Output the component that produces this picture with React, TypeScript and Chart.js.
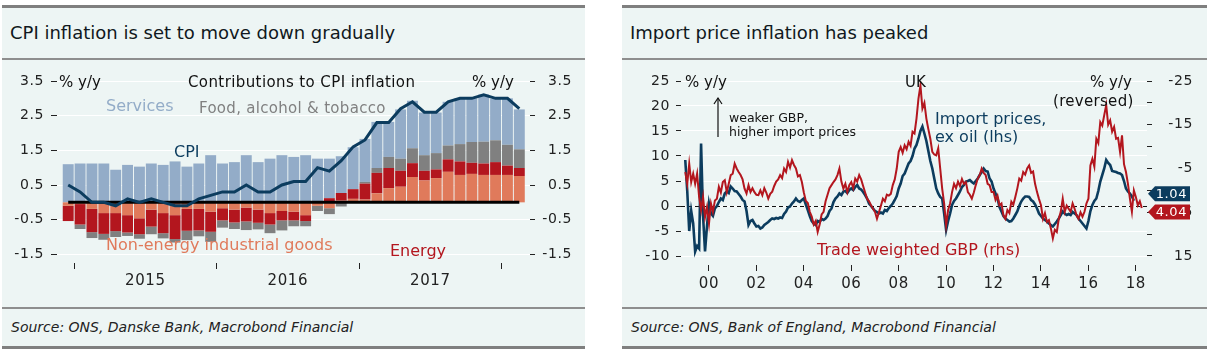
import React, { useEffect, useRef } from "react";
import { Chart, registerables } from "chart.js";

Chart.register(...registerables);

// ---------------- Left chart: contributions to CPI inflation ----------------
const contribMonths = [
  "2014-12",
  "2015-01", "2015-02", "2015-03", "2015-04", "2015-05", "2015-06", "2015-07", "2015-08", "2015-09", "2015-10", "2015-11", "2015-12",
  "2016-01", "2016-02", "2016-03", "2016-04", "2016-05", "2016-06", "2016-07", "2016-08", "2016-09", "2016-10", "2016-11", "2016-12",
  "2017-01", "2017-02", "2017-03", "2017-04", "2017-05", "2017-06", "2017-07", "2017-08", "2017-09", "2017-10", "2017-11", "2017-12",
  "2018-01", "2018-02",
];
const neigContrib = [-0.10, -0.05, -0.19, -0.31, -0.31, -0.37, -0.46, -0.21, -0.31, -0.37, -0.19, -0.19, -0.27, -0.17, -0.21, -0.15, -0.21, -0.31, -0.25, -0.27, -0.37, -0.10, -0.17, 0.05, 0.10, 0.08, 0.26, 0.41, 0.45, 0.73, 0.63, 0.70, 0.88, 0.79, 0.82, 0.79, 0.79, 0.79, 0.76];
const energyContrib = [-0.44, -0.59, -0.67, -0.60, -0.52, -0.50, -0.46, -0.49, -0.58, -0.69, -0.63, -0.62, -0.58, -0.35, -0.37, -0.40, -0.38, -0.33, -0.27, -0.25, -0.17, 0.00, 0.12, 0.22, 0.28, 0.46, 0.59, 0.58, 0.46, 0.40, 0.28, 0.25, 0.36, 0.39, 0.32, 0.33, 0.37, 0.27, 0.23];
const foodContrib = [0.00, -0.13, -0.17, -0.17, -0.17, -0.10, -0.13, -0.22, -0.15, -0.10, -0.27, -0.17, -0.29, -0.21, -0.19, -0.25, -0.19, -0.25, -0.29, -0.17, -0.15, -0.15, -0.17, -0.12, 0.00, 0.05, 0.14, 0.32, 0.35, 0.43, 0.45, 0.47, 0.40, 0.50, 0.60, 0.63, 0.63, 0.60, 0.54];
const servicesContrib = [1.10, 1.12, 1.12, 1.12, 0.94, 1.08, 1.03, 1.12, 1.08, 1.18, 1.03, 1.12, 1.36, 1.12, 1.16, 1.36, 1.16, 1.26, 1.36, 1.31, 1.36, 1.26, 1.14, 1.06, 1.21, 1.24, 1.33, 1.01, 1.42, 1.37, 1.23, 1.17, 1.26, 1.32, 1.26, 1.36, 1.20, 1.34, 1.15];
const cpiInflation = [0.5, 0.3, 0.0, 0.0, -0.1, 0.1, 0.0, 0.1, 0.0, -0.1, -0.1, 0.1, 0.2, 0.3, 0.3, 0.5, 0.3, 0.3, 0.5, 0.6, 0.6, 1.0, 0.9, 1.2, 1.6, 1.8, 2.3, 2.3, 2.7, 2.9, 2.6, 2.6, 2.9, 3.0, 3.0, 3.1, 3.0, 3.0, 2.7];
const contribYearLabels = ["2015", "2016", "2017", ""];
const contribYTicks = [-1.5, -1, -0.5, 0, 0.5, 1, 1.5, 2, 2.5, 3, 3.5];

// ---------------- Right chart: import prices vs trade weighted GBP ----------------
const importStartYear = 1999; // monthly data from Jan 1999
const importPricesExOil = [
  9.2, 3.0, -5.0, -1.0, -3.5, -9.1, -8.0, -8.5, 12.5, -2.0, -9.1, -4.0,
  0.5, -1.5, -2.0, -0.5, 0.0, 0.8, 1.5, 1.2, 2.5, 2.9, 2.6, 3.9,
  3.5, 3.0, 2.9, 2.4, 1.9, 1.2, 0.9, -1.0, -3.8, -3.0, -2.8, -3.5,
  -4.1, -4.0, -4.5, -4.3, -3.8, -3.5, -3.2, -2.8, -2.5, -2.6, -2.4, -2.5,
  -2.3, -2.4, -1.6, -1.1, -0.3, -0.1, 0.5, 0.9, 1.5, 1.0, 0.8, 1.2,
  1.5, 0.3, -0.8, -2.0, -3.0, -3.5, -3.8, -3.0, -3.2, -2.6, -2.8, -2.5,
  -2.0, -1.0, -0.5, 0.8, 1.5, 1.9, 2.5, 2.2, 2.9, 3.0, 2.6, 3.2,
  3.5, 3.2, 3.8, 4.2, 3.5, 3.3, 2.8, 2.2, 1.5, 0.5, 0.0, -0.5,
  -1.0, -1.2, -1.5, -1.3, -1.5, -0.8, -1.0, -0.4, 0.0, 0.5, 1.2, 2.0,
  3.5, 4.5, 6.0, 6.5, 7.5, 8.5, 9.0, 10.0, 11.5, 12.2, 13.5, 15.0,
  15.9, 14.5, 13.0, 11.0, 9.0, 7.5, 5.5, 3.5, 2.5, 1.8, 1.5, -1.5,
  -4.8, -3.0, -1.5, 0.2, 1.0, 1.5, 2.2, 2.9, 3.8, 4.2, 4.9, 5.0,
  5.2, 4.8, 4.5, 5.0, 5.5, 6.2, 6.8, 7.5, 7.0, 6.9, 5.5, 4.9,
  3.5, 2.5, 1.5, -0.2, -1.1, -2.0, -2.5, -2.8, -3.1, -3.0, -2.5, -1.8,
  -1.1, 0.0, 0.9, 1.5, 1.9, 1.9, 1.8, 1.2, 0.9, 0.3, -0.5, -1.5,
  -2.0, -2.5, -2.8, -3.1, -3.5, -3.8, -4.1, -3.6, -3.1, -2.5, -1.8, -1.1,
  -1.5, -1.8, -1.6, -1.8, -1.2, -1.5, -1.8, -2.5, -3.0, -3.5, -4.0, -4.5,
  -3.0, -1.0, 0.2, 1.0, 1.5, 3.0, 4.9, 6.2, 7.5, 9.2, 8.6, 8.2,
  7.0, 6.9, 6.8, 6.6, 6.5, 6.2, 5.0, 3.5, 2.9, 2.5, 1.9, 1.04,
];
const tradeWeightedGbp = [
  -4.2, -1.5, -6.1, -1.9, -3.8, -1.5, -3.8, 1.5, 4.5, 1.5, 6.1, 3.8,
  7.6, 3.0, 4.9, 2.3, 1.9, -0.8, 0.5, -1.9, -2.3, 0.4, -1.5, -3.5,
  -3.8, -6.1, -5.0, -4.2, -3.5, -2.5, -0.4, 0.7, -1.2, 0.4, -0.5, 0.4,
  1.0, 1.1, 0.0, 1.1, -0.5, 0.5, 1.9, 0.8, 0.3, -1.0, -2.0, -2.5,
  -3.5, -2.8, -5.0, -4.2, -6.5, -5.2, -6.9, -5.8, -5.0, -3.2, -3.5, -1.9,
  0.5, 2.4, 2.9, 4.9, 6.0, 7.8, 7.0, 9.5, 7.8, 5.5, 4.9, 2.5,
  1.0, -0.5, -1.2, -1.9, -2.5, -3.5, -5.0, -2.0, -0.4, -1.5, 0.4, -1.2,
  -1.9, -0.5, -2.7, -2.0, -3.5, -2.5, -1.0, 0.5, 1.9, 2.5, 3.4, 4.2,
  4.9, 6.5, 5.0, 3.5, 1.9, 2.5, 1.0, 1.2, 0.8, -1.2, -2.5, -5.0,
  -8.8, -9.9, -8.6, -10.3, -9.4, -11.1, -10.2, -13.4, -13.0, -16.4, -21.0, -24.0,
  -18.7, -20.0, -16.4, -14.0, -11.8, -8.8, -8.2, -8.0, -9.6, -5.0, -0.4, 3.0,
  8.0, 4.5, 3.0, 0.4, -1.5, -0.5, -2.0, -1.0, -2.6, -1.5, -1.9, 0.4,
  1.0, 1.9, 0.5, -1.2, -2.7, -3.5, -5.0, -4.0, -3.5, -1.5, -1.2, 0.4,
  0.4, 2.2, 1.2, 3.4, 3.0, 5.7, 6.5, 4.5, 5.2, 2.6, 3.3, 1.5,
  -0.4, -2.7, -2.2, -4.2, -3.6, -5.0, -5.7, -4.0, -4.3, -1.5, 0.4, 2.0,
  3.4, 6.5, 5.2, 7.2, 6.8, 8.7, 11.0, 9.0, 9.5, 6.5, 4.9, 1.9,
  4.9, 3.5, 4.2, 4.9, 3.0, 4.2, 5.7, 6.5, 5.0, 6.0, 4.9, 3.0,
  1.9, -5.7, -7.2, -5.4, -11.8, -10.8, -15.6, -14.8, -17.2, -19.5, -15.0, -16.0,
  -13.4, -14.5, -11.8, -12.0, -8.8, -12.6, -6.0, -4.2, -1.5, 1.9, 4.9, 0.0,
  1.5, 3.4, 2.5, 4.04,
];
const importXTicks = [2000, 2002, 2004, 2006, 2008, 2010, 2012, 2014, 2016, 2018];
const importLeftTicks = [-10, -5, 0, 5, 10, 15, 20, 25];
const importRightTicks = [-25, -20, -15, -10, -5, 0, 5, 10, 15];

// ---------------- Styles ----------------
const FONT = '"DejaVu Sans", Roboto, sans-serif';
const NAVY = "#0c3c5e";
const RED = "#b3161e";
const SERVICES_C = "#93acc8";
const FOOD_C = "#808080";
const ENERGY_C = "#b3161e";
const NEIG_C = "#e07a5b";
const PANEL_BG = "#edf5f4";
const BORDER = "#7f7f7f";
const TICK_C = "#222";

function T(props: { x: number; cy: number; size: number; color?: string; italic?: boolean; ls?: number; children: any }) {
  const { x, cy, size, color = "#111", italic, ls = 0, children } = props;
  return (
    <div
      style={{
        position: "absolute",
        left: x,
        top: cy - size * 0.62,
        fontSize: size,
        lineHeight: `${Math.round(size * 1.2)}px`,
        color,
        whiteSpace: "nowrap",
        fontStyle: italic ? "italic" : "normal",
        letterSpacing: ls,
        fontFamily: FONT,
      }}
    >
      {children}
    </div>
  );
}

function Panel(props: { x: number; w: number; title: string; source: string }) {
  const { x, w, title, source } = props;
  return (
    <>
      <div style={{ position: "absolute", left: x, top: 5, width: w, height: 344, background: PANEL_BG }} />
      <div style={{ position: "absolute", left: x, top: 5, width: w, height: 3, background: BORDER }} />
      <div style={{ position: "absolute", left: x, top: 58, width: w, height: 2, background: "#8e8e8e" }} />
      <div style={{ position: "absolute", left: x, top: 307, width: w, height: 2, background: "#8e8e8e" }} />
      <div style={{ position: "absolute", left: x, top: 346, width: w, height: 3, background: BORDER }} />
      <T x={x + 8} cy={33} size={18} color="#101820">{title}</T>
      <T x={x + 9} cy={328} size={14} italic color="#222">{source}</T>
    </>
  );
}

const spacingPlugin = {
  id: "letterSpacing",
  beforeDraw(chart: any) {
    (chart.ctx as any).letterSpacing = "0.6px";
  },
};

export default function App() {
  const leftRef = useRef<HTMLCanvasElement>(null);
  const rightRef = useRef<HTMLCanvasElement>(null);

  useEffect(() => {
    const xMin = -0.944;
    const xMax = 38.9;
    const plotW = 473;
    const pxPerMonth = plotW / (xMax - xMin);
    const yearBoundaries = contribMonths
      .map((m, i) => (m.endsWith("-01") ? i - 0.5 : NaN))
      .filter((v) => !Number.isNaN(v));
    const pts = (arr: number[]) => arr.map((v, i) => ({ x: i, y: v }));
    const barStyle = { type: "bar" as const, stack: "contrib", barPercentage: 0.92, categoryPercentage: 1, yAxisID: "y" };

    const zeroLine = {
      id: "zeroLine",
      afterDatasetDraw(chart: any, args: any) {
        if (args.index !== 1) return;
        const { ctx, scales } = chart;
        const y = scales.y.getPixelForValue(0);
        ctx.save();
        ctx.strokeStyle = "#000";
        ctx.lineWidth = 3;
        ctx.beginPath();
        ctx.moveTo(scales.x.getPixelForValue(0), y);
        ctx.lineTo(scales.x.getPixelForValue(contribMonths.length - 1), y);
        ctx.stroke();
        ctx.restore();
      },
    };

    const yTickLabel = (v: any) => (Math.abs(Math.round(Number(v) * 2)) % 2 === 1 ? Number(v).toFixed(1) : "");
    const tickFont = { family: FONT, size: 14 };

    const left = new Chart(leftRef.current!, {
      type: "bar",
      data: {
        datasets: [
          { type: "line", data: pts(cpiInflation), borderColor: NAVY, borderWidth: 3, pointRadius: 0, stack: "cpi", yAxisID: "y", tension: 0 } as any,
          { ...barStyle, data: pts(neigContrib), backgroundColor: NEIG_C },
          { ...barStyle, data: pts(energyContrib), backgroundColor: ENERGY_C },
          { ...barStyle, data: pts(foodContrib), backgroundColor: FOOD_C },
          { ...barStyle, data: pts(servicesContrib), backgroundColor: SERVICES_C },
        ],
      },
      options: {
        animation: false,
        responsive: false,
        maintainAspectRatio: false,
        layout: { padding: { top: 21, right: 13, bottom: 0, left: 0 }, autoPadding: false },
        plugins: { legend: { display: false }, tooltip: { enabled: false } },
        scales: {
          x: {
            type: "linear",
            min: xMin,
            max: xMax,
            offset: false,
            grid: { display: true, drawOnChartArea: false, drawTicks: true, tickLength: 6, tickColor: TICK_C, offset: false },
            border: { display: false },
            afterBuildTicks: (s: any) => {
              s.ticks = yearBoundaries.map((v) => ({ value: v }));
            },
            afterFit: (s: any) => {
              s.height = 27;
            },
            ticks: {
              autoSkip: false,
              maxRotation: 0,
              padding: 3,
              labelOffset: 6 * pxPerMonth,
              color: TICK_C,
              font: { family: FONT, size: 15 },
              callback: (_v: any, i: number) => contribYearLabels[i] ?? "",
            },
          },
          y: {
            position: "left",
            stacked: true,
            min: -1.75,
            max: 3.5,
            grid: { color: "#ffffff", lineWidth: 1, tickColor: TICK_C, tickLength: 6 },
            border: { display: false },
            afterBuildTicks: (s: any) => {
              s.ticks = contribYTicks.map((v) => ({ value: v }));
            },
            afterFit: (s: any) => {
              s.width = 57;
            },
            ticks: { padding: 7, color: TICK_C, font: tickFont, callback: yTickLabel },
          },
          y2: {
            position: "right",
            min: -1.75,
            max: 3.5,
            grid: { drawOnChartArea: false, tickColor: TICK_C, tickLength: 5 },
            border: { display: false },
            afterBuildTicks: (s: any) => {
              s.ticks = contribYTicks.map((v) => ({ value: v }));
            },
            afterFit: (s: any) => {
              s.width = 42;
            },
            ticks: { crossAlign: "far", padding: 6, color: TICK_C, font: tickFont, callback: yTickLabel },
          },
        },
      } as any,
      plugins: [spacingPlugin, zeroLine],
    });

    // ---------- right chart ----------
    const monthly = (arr: number[]) => arr.map((v, i) => ({ x: importStartYear + i / 12, y: v }));

    const zeroDash = {
      id: "zeroDash",
      beforeDatasetsDraw(chart: any) {
        const { ctx, scales, chartArea } = chart;
        const y = Math.round(scales.y.getPixelForValue(0)) + 0.5;
        ctx.save();
        ctx.strokeStyle = "#111";
        ctx.lineWidth = 1;
        ctx.setLineDash([4, 3]);
        ctx.beginPath();
        ctx.moveTo(chartArea.left, y);
        ctx.lineTo(chartArea.right, y);
        ctx.stroke();
        ctx.restore();
      },
    };

    const lastTags = {
      id: "lastTags",
      afterDraw(chart: any) {
        const { ctx, scales, chartArea } = chart;
        const items = [
          { v: importPricesExOil[importPricesExOil.length - 1], scale: scales.y, color: NAVY, dy: -7 },
          { v: tradeWeightedGbp[tradeWeightedGbp.length - 1], scale: scales.y2, color: RED, dy: 4 },
        ];
        ctx.save();
        for (const it of items) {
          const y = it.scale.getPixelForValue(it.v) + it.dy;
          const x0 = chartArea.right + 1;
          const w = 42;
          const h = 15;
          const notch = 7;
          ctx.fillStyle = it.color;
          ctx.beginPath();
          ctx.moveTo(x0, y);
          ctx.lineTo(x0 + notch, y - h / 2);
          ctx.lineTo(x0 + w, y - h / 2);
          ctx.lineTo(x0 + w, y + h / 2);
          ctx.lineTo(x0 + notch, y + h / 2);
          ctx.closePath();
          ctx.fill();
          ctx.fillStyle = "#fff";
          ctx.font = `13px ${FONT}`;
          ctx.textAlign = "right";
          ctx.textBaseline = "middle";
          ctx.fillText(it.v.toFixed(2), x0 + w - 3, y + 0.5);
        }
        ctx.restore();
      },
    };

    const right = new Chart(rightRef.current!, {
      type: "line",
      data: {
        datasets: [
          { data: monthly(tradeWeightedGbp), yAxisID: "y2", borderColor: RED, borderWidth: 2, pointRadius: 0, tension: 0 },
          { data: monthly(importPricesExOil), yAxisID: "y", borderColor: NAVY, borderWidth: 2.6, pointRadius: 0, tension: 0 },
        ],
      },
      options: {
        animation: false,
        responsive: false,
        maintainAspectRatio: false,
        layout: { padding: { top: 21, right: 14, bottom: 0, left: 0 }, autoPadding: false },
        plugins: { legend: { display: false }, tooltip: { enabled: false } },
        scales: {
          x: {
            type: "linear",
            min: 1998.82,
            max: 2018.47,
            grid: { drawOnChartArea: false, drawTicks: true, tickLength: 6, tickColor: TICK_C },
            border: { display: false },
            afterBuildTicks: (s: any) => {
              s.ticks = importXTicks.map((v) => ({ value: v }));
            },
            afterFit: (s: any) => {
              s.height = 25;
            },
            ticks: {
              autoSkip: false,
              maxRotation: 0,
              padding: 4,
              color: TICK_C,
              font: { family: FONT, size: 15 },
              callback: (v: any) => String(Number(v) % 100).padStart(2, "0"),
            },
          },
          y: {
            position: "left",
            min: -11.8,
            max: 25,
            grid: { color: "#ffffff", lineWidth: 1, tickColor: TICK_C, tickLength: 5 },
            border: { display: false },
            afterBuildTicks: (s: any) => {
              s.ticks = importLeftTicks.map((v) => ({ value: v }));
            },
            afterFit: (s: any) => {
              s.width = 59;
            },
            ticks: { padding: 6, color: TICK_C, font: tickFont, callback: (v: any) => String(v) },
          },
          y2: {
            position: "right",
            reverse: true,
            min: -25,
            max: 17.06,
            grid: { drawOnChartArea: false, tickColor: TICK_C, tickLength: 5 },
            border: { display: false },
            afterBuildTicks: (s: any) => {
              s.ticks = importRightTicks.map((v) => ({ value: v }));
            },
            afterFit: (s: any) => {
              s.width = 46;
            },
            ticks: {
              crossAlign: "far",
              padding: 6,
              color: TICK_C,
              font: tickFont,
              callback: (v: any) => (Math.abs(Number(v)) % 10 === 5 ? String(v) : ""),
            },
          },
        },
      } as any,
      plugins: [spacingPlugin, zeroDash, lastTags],
    });

    return () => {
      left.destroy();
      right.destroy();
    };
  }, []);

  return (
    <div style={{ position: "absolute", left: 0, top: 0, width: 1209, height: 363, background: "#fff", overflow: "hidden", fontFamily: FONT }}>
      <Panel x={2} w={583} title="CPI inflation is set to move down gradually" source="Source: ONS, Danske Bank, Macrobond Financial" />
      <Panel x={622} w={585} title="Import price inflation has peaked" source="Source: ONS, Bank of England, Macrobond Financial" />

      <canvas ref={leftRef} width={585} height={230} style={{ position: "absolute", left: 0, top: 60, width: 585, height: 230 }} />
      <canvas ref={rightRef} width={585} height={230} style={{ position: "absolute", left: 622, top: 60, width: 585, height: 230 }} />

      {/* left chart annotations */}
      <T x={59} cy={82} size={15}>% y/y</T>
      <T x={188} cy={82} size={15} ls={0.4}>Contributions to CPI inflation</T>
      <T x={472} cy={82} size={15}>% y/y</T>
      <T x={106} cy={106} size={16} color={SERVICES_C}>Services</T>
      <T x={199} cy={108} size={15} color={FOOD_C} ls={0.3}>Food, alcohol &amp; tobacco</T>
      <T x={174} cy={152} size={16} color={NAVY}>CPI</T>
      <T x={106} cy={245} size={16} color={NEIG_C}>Non-energy industrial goods</T>
      <T x={390} cy={251} size={16} color={ENERGY_C}>Energy</T>

      {/* right chart annotations */}
      <T x={685} cy={82} size={15}>% y/y</T>
      <T x={905} cy={82} size={15}>UK</T>
      <T x={1090} cy={82} size={15}>% y/y</T>
      <T x={1053} cy={101} size={15} ls={0.3}>(reversed)</T>
      <T x={729} cy={118} size={12.5}>weaker GBP,</T>
      <T x={729} cy={132} size={12.5}>higher import prices</T>
      <T x={935} cy={119} size={16} color={NAVY}>Import prices,</T>
      <T x={935} cy={137} size={16} color={NAVY}>ex oil (lhs)</T>
      <T x={817} cy={250} size={16} color={RED}>Trade weighted GBP (rhs)</T>
      <svg style={{ position: "absolute", left: 712, top: 95, width: 14, height: 44 }} viewBox="0 0 14 44">
        <line x1="6" y1="3" x2="6" y2="42" stroke="#111" strokeWidth="1.2" />
        <polyline points="2,9 6,3 10,9" fill="none" stroke="#111" strokeWidth="1.2" />
      </svg>
    </div>
  );
}
